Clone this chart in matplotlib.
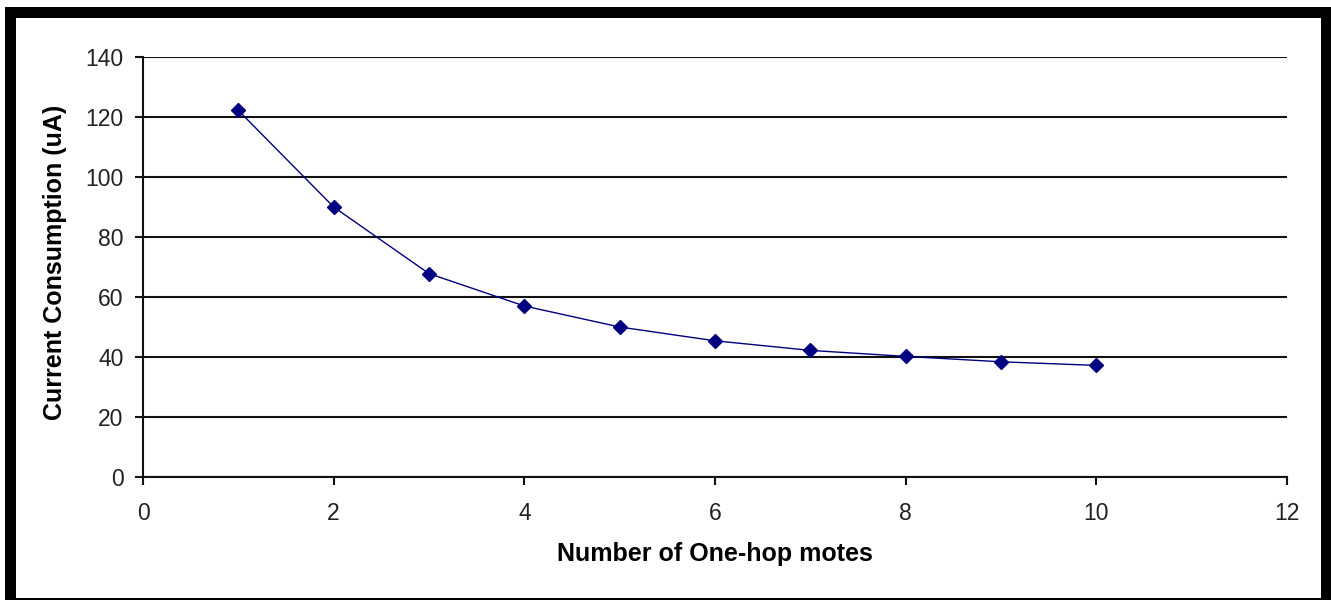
import matplotlib.pyplot as plt
from matplotlib.patches import Rectangle

# data
motes = [1, 2, 3, 4, 5, 6, 7, 8, 9, 10]
current_ua = [122.2, 90.0, 67.8, 57.0, 50.0, 45.4, 42.2, 40.2, 38.4, 37.2]
x_ticks = [0, 2, 4, 6, 8, 10, 12]
y_ticks = [0, 20, 40, 60, 80, 100, 120, 140]

W, H = 1331, 604
plt.rcParams['font.family'] = ['Liberation Sans', 'DejaVu Sans']

fig = plt.figure(figsize=(W / 100, H / 100), dpi=100)
ax = fig.add_axes([143 / W, 1 - 477 / H, (1287 - 143) / W, (477 - 57) / H])

ax.plot(motes, current_ua, color='#000080', lw=1.0, marker='D', ms=7.5,
        markerfacecolor='#000080', markeredgecolor='#000080')

ax.set_xlim(0, 12)
ax.set_ylim(0, 140)
ax.set_xticks(x_ticks)
ax.set_yticks(y_ticks)
ax.yaxis.grid(True, color='#111111', lw=1.5)
ax.set_axisbelow(True)

for side in ['top', 'right']:
    ax.spines[side].set_visible(False)
for side in ['left', 'bottom']:
    ax.spines[side].set_color('#111111')
    ax.spines[side].set_linewidth(1.5)

ax.tick_params(axis='y', length=6, width=1.5, color='#111111', pad=8,
               labelsize=16.5, labelcolor='#222222')
ax.tick_params(axis='x', length=6, width=1.5, color='#111111', pad=12,
               labelsize=16.5, labelcolor='#222222')

ax.set_xlabel('Number of One-hop motes', fontsize=18, fontweight='bold')
ax.set_ylabel('Current Consumption (uA)', fontsize=18, fontweight='bold')
ax.xaxis.set_label_coords(0.5, -0.155)
ax.yaxis.set_label_coords(-0.066, 0.51)


# black picture frame: thick left/top/right, thin bottom
def frame(x0, y0, x1, y1):
    fig.add_artist(Rectangle((x0 / W, 1 - y1 / H), (x1 - x0) / W, (y1 - y0) / H,
                             transform=fig.transFigure, color='black', lw=0))


frame(5, 7, 16, 600)
frame(5, 7, W, 18)
frame(1321, 7, W, 600)
frame(5, 598, W, 600)

fig.savefig('out.png', dpi=100)
